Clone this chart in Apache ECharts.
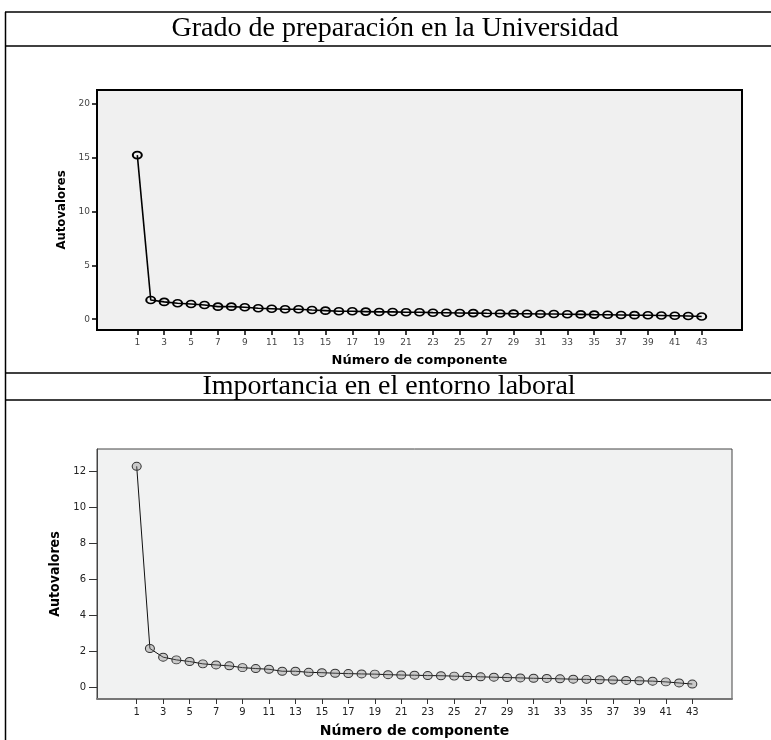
<!DOCTYPE html>
<html>
<head>
<meta charset="utf-8">
<script src="https://cdn.jsdelivr.net/npm/echarts@6/dist/echarts.min.js"></script>
<style>
html,body{margin:0;padding:0;background:#ffffff;}
#c{width:771px;height:740px;}
</style>
</head>
<body>
<div id="c"></div>
<script>
// ---- data ----
const titleTop = 'Grado de preparación en la Universidad';
const titleBottom = 'Importancia en el entorno laboral';
const xName = 'Número de componente';
const yName = 'Autovalores';

const components = [1,2,3,4,5,6,7,8,9,10,11,12,13,14,15,16,17,18,19,20,21,22,23,24,25,26,27,28,29,30,31,32,33,34,35,36,37,38,39,40,41,42,43];
const xTickLabels = [1,3,5,7,9,11,13,15,17,19,21,23,25,27,29,31,33,35,37,39,41,43];
const yTicksTop = [0,5,10,15,20];
const yTicksBottom = [0,2,4,6,8,10,12];

const eigenTop = [15.25,1.79,1.61,1.49,1.42,1.33,1.17,1.17,1.11,1.02,0.98,0.93,0.93,0.86,0.80,0.74,0.74,0.71,0.68,0.68,0.65,0.65,0.61,
                  0.60,0.58,0.57,0.55,0.54,0.52,0.51,0.49,0.48,0.46,0.45,0.43,0.42,0.40,0.38,0.37,0.35,0.33,0.30,0.25];
const eigenBottom = [12.28,2.17,1.69,1.54,1.45,1.32,1.26,1.21,1.11,1.06,1.02,0.91,0.91,0.85,0.83,0.80,0.78,0.76,0.75,0.72,0.70,0.69,0.67,
                     0.66,0.64,0.62,0.60,0.58,0.56,0.54,0.52,0.51,0.49,0.47,0.46,0.44,0.42,0.40,0.38,0.36,0.32,0.26,0.20];

const chart = echarts.init(document.getElementById('c'), null, {renderer:'canvas'});

function pairs(vals){ return components.map((c,i)=>[c, vals[i]]); }

const narrowBold = "'Liberation Sans Narrow', 'DejaVu Sans Condensed', 'Liberation Sans', Arial, sans-serif";

const option = {
  animation:false,
  backgroundColor:'#ffffff',
  grid:[
    {left:97, top:90, width:645, height:240, show:true, backgroundColor:'#f0f0f0', borderColor:'#000', borderWidth:2},
    {left:97, top:449, width:635, height:250, show:true, backgroundColor:'#f1f2f2', borderColor:'#444', borderWidth:1}
  ],
  xAxis:[
    {type:'value', gridIndex:0, min:-2, max:46,
     axisLine:{show:true, onZero:false, lineStyle:{color:'#000', width:2}},
     axisTick:{show:true, customValues:xTickLabels, length:5, lineStyle:{color:'#000', width:1.5}},
     axisLabel:{customValues:xTickLabels, fontSize:9, color:'#444', margin:8, fontFamily:'DejaVu Sans'},
     splitLine:{show:false},
     name:xName, nameLocation:'middle', nameGap:24,
     nameTextStyle:{fontFamily:'DejaVu Sans', fontWeight:'bold', fontSize:13, color:'#000'}},
    {type:'value', gridIndex:1, min:-2, max:46,
     axisLine:{show:true, onZero:false, lineStyle:{color:'#777', width:2}},
     axisTick:{show:true, customValues:xTickLabels, length:5, lineStyle:{color:'#333', width:1}},
     axisLabel:{customValues:xTickLabels, fontSize:10, color:'#222', margin:8, fontFamily:'DejaVu Sans'},
     splitLine:{show:false},
     name:xName, nameLocation:'middle', nameGap:25,
     nameTextStyle:{fontFamily:'DejaVu Sans', fontWeight:'bold', fontSize:14, color:'#000'}}
  ],
  yAxis:[
    {type:'value', gridIndex:0, min:-1, max:21.3,
     axisLine:{show:true, onZero:false, lineStyle:{color:'#000', width:2}},
     axisTick:{show:true, customValues:yTicksTop, length:5, lineStyle:{color:'#000', width:1.5}},
     axisLabel:{customValues:yTicksTop, fontSize:9, color:'#444', margin:7, fontFamily:'DejaVu Sans'},
     splitLine:{show:false},
     name:yName, nameLocation:'middle', nameRotate:90, nameGap:27,
     nameTextStyle:{fontFamily:narrowBold, fontWeight:'bold', fontSize:13, color:'#000'}},
    {type:'value', gridIndex:1, min:-0.63, max:13.24,
     axisLine:{show:true, onZero:false, lineStyle:{color:'#444', width:1}},
     axisTick:{show:true, customValues:yTicksBottom, length:8, lineStyle:{color:'#333', width:1}},
     axisLabel:{customValues:yTicksBottom, fontSize:10, color:'#222', margin:11, fontFamily:'DejaVu Sans'},
     splitLine:{show:false},
     name:yName, nameLocation:'middle', nameRotate:90, nameGap:30,
     nameTextStyle:{fontFamily:narrowBold, fontWeight:'bold', fontSize:14, color:'#000'}}
  ],
  series:[
    {type:'line', xAxisIndex:0, yAxisIndex:0, data:pairs(eigenTop),
     symbol:'circle', symbolSize:[9,7],
     itemStyle:{color:'rgba(0,0,0,0)', borderColor:'#000', borderWidth:1.8},
     lineStyle:{color:'#000', width:1.6}},
    {type:'line', xAxisIndex:1, yAxisIndex:1, data:pairs(eigenBottom),
     symbol:'circle', symbolSize:[9,8],
     itemStyle:{color:'rgba(130,130,130,0.35)', borderColor:'#333', borderWidth:1},
     lineStyle:{color:'#111', width:1}}
  ],
  graphic:[
    {type:'line', shape:{x1:5, y1:12, x2:771, y2:12}, style:{stroke:'#000', lineWidth:1.5}},
    {type:'line', shape:{x1:5, y1:46, x2:771, y2:46}, style:{stroke:'#000', lineWidth:1.5}},
    {type:'line', shape:{x1:5, y1:373, x2:771, y2:373}, style:{stroke:'#000', lineWidth:1.5}},
    {type:'line', shape:{x1:5, y1:400, x2:771, y2:400}, style:{stroke:'#000', lineWidth:1.5}},
    {type:'line', shape:{x1:5.5, y1:12, x2:5.5, y2:740}, style:{stroke:'#000', lineWidth:1.5}},
    {type:'text', x:395, y:29, style:{text:titleTop, fontFamily:'Liberation Serif', fontSize:28, fill:'#000', align:'center', verticalAlign:'middle'}},
    {type:'text', x:389, y:387, style:{text:titleBottom, fontFamily:'Liberation Serif', fontSize:28, fill:'#000', align:'center', verticalAlign:'middle'}}
  ]
};
chart.setOption(option);
</script>
</body>
</html>
